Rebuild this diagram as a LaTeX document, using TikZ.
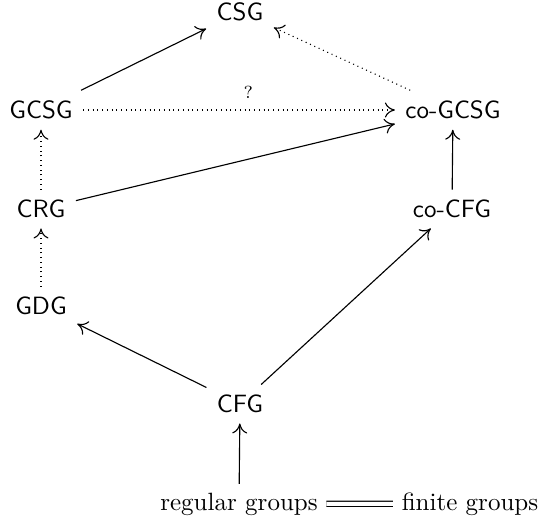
\documentclass[tikz,border=0pt]{standalone}
\usetikzlibrary{arrows.meta}
\begin{document}
\begin{tikzpicture}[x=0.4pt,y=-0.4pt,
  cls/.style={font=\sffamily, inner sep=4pt},
  arr/.style={-{Computer Modern Rightarrow[length=4pt,width=6pt]}, line width=0.45pt},
  dotarr/.style={arr, dash pattern=on 0.4pt off 1.5pt}]
\useasboundingbox (0,0) rectangle (549,521);
\node[cls] (csg) at (240,12) {CSG};
\node[cls] (gcsg) at (41,110) {GCSG};
\node[cls] (cogcsg) at (453,110) {co-GCSG};
\node[cls] (crg) at (41,209) {CRG};
\node[cls] (cocfg) at (452,209) {co-CFG};
\node[cls] (gdg) at (41,306) {GDG};
\node[cls] (cfg) at (240,404) {CFG};
\node[anchor=base] (reg) at (239,510) {regular groups};
\node[anchor=base] (fin) at (470,510) {finite groups};
\draw[arr] (gcsg) -- (csg);
\draw[dotarr] (cogcsg) -- (csg);
\draw[dotarr] (gcsg) -- node[above, pos=0.53, font=\scriptsize, yshift=1pt] (q) {?} (cogcsg);
\draw[arr] (crg) -- (cogcsg);
\draw[dotarr] (crg) -- (gcsg);
\draw[arr] (cocfg) -- (cogcsg);
\draw[dotarr] (gdg) -- (crg);
\draw[arr] (cfg) -- (gdg);
\draw[arr] (cfg) -- (cocfg);
\draw[arr] (reg) -- (cfg);
\draw[double, double distance=1.6pt, line width=0.45pt] (reg) -- (fin);
\end{tikzpicture}
\end{document}
